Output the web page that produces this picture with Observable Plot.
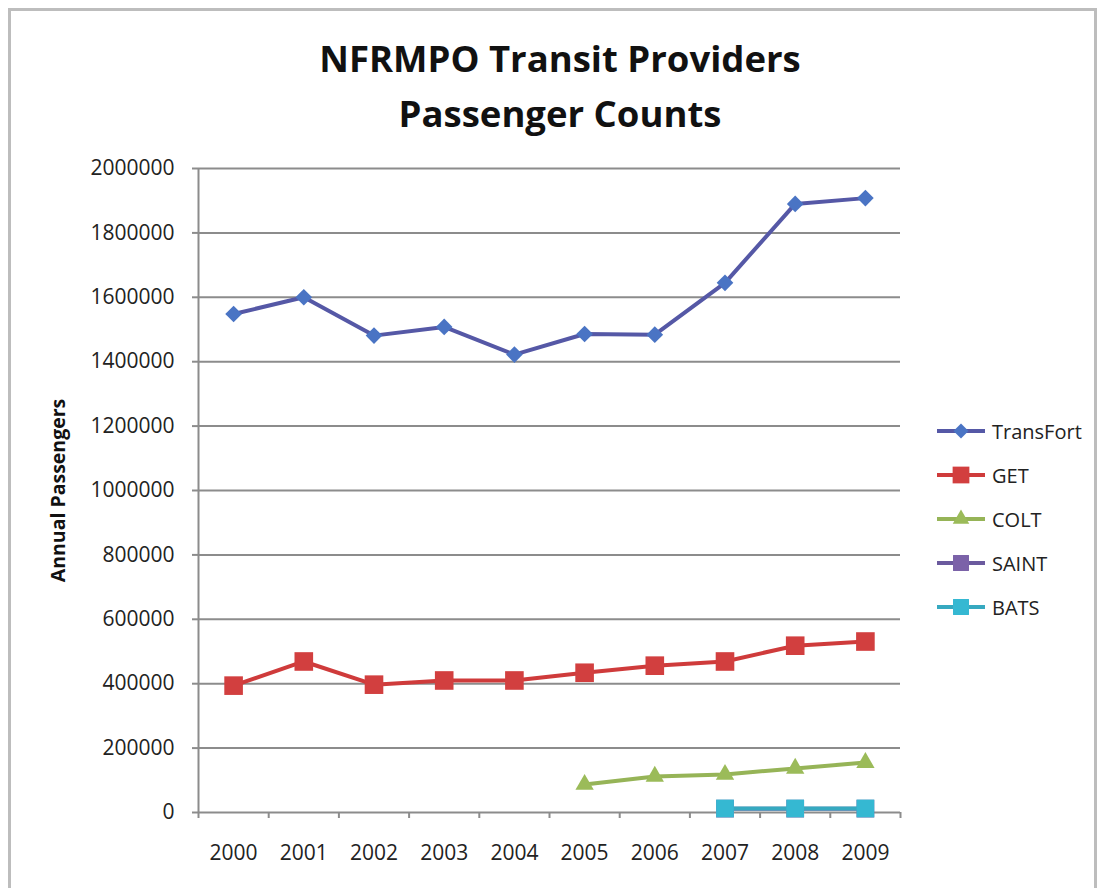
<!DOCTYPE html>
<html><head><meta charset="utf-8">
<script src="https://cdn.jsdelivr.net/npm/d3@7"></script>
<script src="https://cdn.jsdelivr.net/npm/@observablehq/plot@0.6"></script>
<style>
html,body{margin:0;padding:0;background:#fff;overflow:hidden;}
#wrap{position:relative;width:1099px;height:888px;font-family:"Open Sans",sans-serif;overflow:hidden;}
#frame{position:absolute;left:8px;top:8px;width:1089px;height:900px;border:3px solid #bdbdbd;box-sizing:border-box;pointer-events:none;}
#title{position:relative;height:141px;box-sizing:border-box;padding-top:31px;padding-left:21px;text-align:center;font-weight:bold;font-size:36.5px;line-height:55px;color:#111;white-space:nowrap;}
#chart svg{display:block;}
#legend{position:absolute;left:935px;top:409px;font-size:20px;color:#222;}
.item{display:flex;align-items:center;height:44px;}
.item svg{display:block;margin-right:5px;}
</style></head>
<body>
<div id="wrap">
  <div id="frame"></div>
  <div id="title">NFRMPO Transit Providers<br>Passenger Counts</div>
  <div id="chart"></div>
  <div id="legend"></div>
</div>
<script>
const years = [2000, 2001, 2002, 2003, 2004, 2005, 2006, 2007, 2008, 2009];
const yearBounds = [1999.5, 2000.5, 2001.5, 2002.5, 2003.5, 2004.5, 2005.5, 2006.5, 2007.5, 2008.5, 2009.5];
const yTicks = [0, 200000, 400000, 600000, 800000, 1000000, 1200000, 1400000, 1600000, 1800000, 2000000];
const seriesNames = ["TransFort", "GET", "COLT", "SAINT", "BATS"];
const transfort = [1548000, 1600000, 1481000, 1508000, 1422000, 1486000, 1484000, 1645000, 1890000, 1908000];
const get = [394000, 469000, 397000, 410000, 410000, 434000, 456000, 469000, 518000, 531000];
const colt = [null, null, null, null, null, 87000, 112000, 118000, 137000, 155000];
const saint = [null, null, null, null, null, null, null, 12000, 12000, 12000];
const bats = [null, null, null, null, null, null, null, 12500, 12500, 12500];

const styles = {
  TransFort: {line: "#5558a6", fill: "#4a74c4", symbol: "diamond2", r: 7.5},
  GET: {line: "#cf3b3b", fill: "#d23f3f", symbol: "square", r: 10.5},
  COLT: {line: "#96b457", fill: "#9bbb59", symbol: "triangle", r: 6.8},
  SAINT: {line: "#6b5a9e", fill: "#7b62a8", symbol: "square", r: 10},
  BATS: {line: "#36a9c0", fill: "#35b8d2", symbol: "square", r: 10}
};
const values = [transfort, get, colt, saint, bats];
const rowsFor = arr => years.map((year, i) => ({year, value: arr[i]})).filter(d => d.value != null);

const seriesMarks = [];
seriesNames.forEach((name, k) => {
  const rows = rowsFor(values[k]);
  const s = styles[name];
  seriesMarks.push(Plot.line(rows, {x: "year", y: "value", stroke: s.line, strokeWidth: 4}));
  seriesMarks.push(Plot.dot(rows, {x: "year", y: "value", symbol: s.symbol, r: s.r, fill: s.fill, stroke: "none"}));
});

const chart = Plot.plot({
  width: 1099, height: 747,
  marginLeft: 198, marginRight: 199, marginTop: 27, marginBottom: 76,
  style: {fontFamily: "Open Sans, sans-serif", fontSize: "21px", color: "#222", background: "transparent", overflow: "visible"},
  x: {type: "linear", domain: [1999.5, 2009.5]},
  y: {domain: [0, 2000000]},
  marks: [
    Plot.gridY(yTicks, {stroke: "#8c8c8c", strokeOpacity: 1, strokeWidth: 2}),
    Plot.ruleX([1999.5], {stroke: "#8c8c8c", strokeWidth: 2}),
    Plot.axisY(yTicks, {tickSize: 6, tickPadding: 18, tickFormat: d => String(d), stroke: "#8c8c8c", strokeWidth: 2, fill: "#222", label: null}),
    Plot.axisX(yearBounds, {tickSize: 6, tickFormat: () => "", stroke: "#8c8c8c", strokeWidth: 2, label: null}),
    Plot.axisX(years, {tickSize: 0, tickPadding: 33, tickFormat: d => String(d), fill: "#222", label: null}),
    Plot.text(["Annual Passengers"], {frameAnchor: "left", dx: -140, rotate: -90, textAnchor: "middle", fontWeight: "bold", fontSize: 19.5, fill: "#111"}),
    ...seriesMarks
  ]
});
document.getElementById("chart").appendChild(chart);

// legend
const legend = d3.select("#legend");
const symMap = {diamond2: d3.symbolDiamond2, square: d3.symbolSquare, triangle: d3.symbolTriangle};
seriesNames.forEach(name => {
  const s = styles[name];
  const item = legend.append("div").attr("class", "item");
  const svg = item.append("svg").attr("width", 52).attr("height", 24);
  svg.append("line").attr("x1", 2).attr("x2", 50).attr("y1", 12).attr("y2", 12).attr("stroke", s.line).attr("stroke-width", 4);
  const size = Math.PI * (s.r * 0.9) * (s.r * 0.9);
  svg.append("path").attr("transform", "translate(26,12)").attr("d", d3.symbol(symMap[s.symbol], size)()).attr("fill", s.fill);
  item.append("span").text(name);
});
</script>
</body></html>
